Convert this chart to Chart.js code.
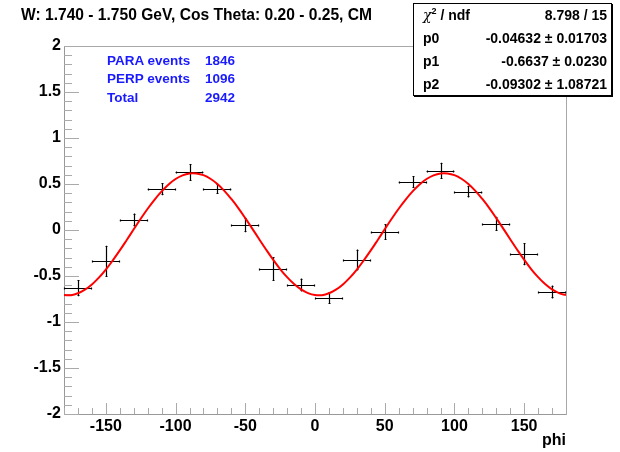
<!DOCTYPE html>
<html><head><meta charset="utf-8">
<script src="https://cdn.jsdelivr.net/npm/chart.js@4.4.1/dist/chart.umd.min.js"></script>
<style>
html,body{margin:0;padding:0;background:#fff;}
#wrap{position:relative;width:620px;height:452px;font-family:'Liberation Sans',Arial,sans-serif;font-weight:bold;overflow:hidden;}
canvas{position:absolute;left:0;top:0;}
.t{position:absolute;white-space:nowrap;line-height:1;}
#stats{position:absolute;left:413px;top:3px;width:199px;height:93px;box-sizing:border-box;border:1px solid #000;background:#fff;box-shadow:1px 1px 0 #000;font-size:14px;}
#stats .row{position:absolute;left:0;right:0;height:23px;line-height:23px;}
#stats .l{position:absolute;left:9px;}
#stats .r{position:absolute;right:4px;}
.blue{color:#1a1aff;font-size:13.5px;}
sup{font-size:9px;vertical-align:6px;line-height:0;}
</style></head><body>
<div id="wrap">
<canvas id="c" width="620" height="452"></canvas>
<div class="t" style="left:21px;top:7px;font-size:15.6px;">W: 1.740 - 1.750 GeV, Cos Theta: 0.20 - 0.25, CM</div>
<div class="t blue" style="left:107px;top:54px;">PARA events</div>
<div class="t blue" style="left:205px;top:54px;">1846</div>
<div class="t blue" style="left:107px;top:72px;">PERP events</div>
<div class="t blue" style="left:205px;top:72px;">1096</div>
<div class="t blue" style="left:107px;top:91px;">Total</div>
<div class="t blue" style="left:205px;top:91px;">2942</div>
<div id="stats">
  <div class="row" style="top:0px"><span class="l"><span style="font-family:'DejaVu Serif',serif;font-weight:normal;font-style:italic;">χ</span><sup>2</sup> / ndf</span><span class="r">8.798 / 15</span></div>
  <div class="row" style="top:23px"><span class="l">p0</span><span class="r">-0.04632 ± 0.01703</span></div>
  <div class="row" style="top:46px"><span class="l">p1</span><span class="r">-0.6637 ± 0.0230</span></div>
  <div class="row" style="top:69px"><span class="l">p2</span><span class="r">-0.09302 ± 1.08721</span></div>
</div>
<div class="t" style="right:54px;top:432px;font-size:16px;">phi</div>
</div>
<script>
// ---- data ----
const phiBins = [-170,-150,-130,-110,-90,-70,-50,-30,-10,10,30,50,70,90,110,130,150,170];
const asymValues = [-0.634,-0.34,0.109,0.442,0.627,0.446,0.051,-0.424,-0.598,-0.739,-0.326,-0.022,0.522,0.645,0.417,0.069,-0.264,-0.674];
const asymErrors = [0.087,0.17,0.07,0.065,0.09,0.055,0.075,0.127,0.07,0.063,0.114,0.085,0.063,0.087,0.063,0.076,0.12,0.07];
const binHalfWidth = 10;
const fitPhi = [-180,-175,-170,-165,-160,-155,-150,-145,-140,-135,-130,-125,-120,-115,-110,-105,-100,-95,-90,-85,-80,-75,-70,-65,-60,-55,-50,-45,-40,-35,-30,-25,-20,-15,-10,-5,0,5,10,15,20,25,30,35,40,45,50,55,60,65,70,75,80,85,90,95,100,105,110,115,120,125,130,135,140,145,150,155,160,165,170,175,180];
const fitValues = [-0.707,-0.708,-0.688,-0.649,-0.592,-0.518,-0.430,-0.330,-0.222,-0.108,0.008,0.122,0.231,0.331,0.420,0.495,0.554,0.594,0.615,0.615,0.596,0.557,0.500,0.426,0.337,0.238,0.129,0.015,-0.100,-0.214,-0.323,-0.424,-0.513,-0.588,-0.646,-0.686,
 -0.707,-0.708,-0.688,-0.649,-0.592,-0.518,-0.430,-0.330,-0.222,-0.108,0.008,0.122,0.231,0.331,0.420,0.495,0.554,0.594,0.615,0.615,0.596,0.557,0.500,0.426,0.337,0.238,0.129,0.015,-0.100,-0.214,-0.323,-0.424,-0.513,-0.588,-0.646,-0.686,-0.707];
const xTicks = [-150,-100,-50,0,50,100,150];
const yTicks = [-2,-1.5,-1,-0.5,0,0.5,1,1.5,2];
const xMinorStep = 10, yMinorStep = 0.1;
const xRange = [-180,180], yRange = [-2,2];

const rootAxes = {
  id:'rootAxes',
  beforeDatasetsDraw(chart){
    const ctx = chart.ctx, a = chart.chartArea, xs = chart.scales.x, ys = chart.scales.y;
    ctx.save();
    ctx.lineWidth = 1;
    ctx.strokeStyle = '#a8a8a8';
    ctx.strokeRect(Math.round(a.left)+0.5, Math.round(a.top)+0.5, Math.round(a.right-a.left), Math.round(a.bottom-a.top));
    ctx.strokeStyle = '#999';
    ctx.beginPath();
    ctx.moveTo(Math.round(a.left)+0.5, a.top); ctx.lineTo(Math.round(a.left)+0.5, a.bottom);
    ctx.moveTo(a.left, Math.round(a.bottom)+0.5); ctx.lineTo(a.right, Math.round(a.bottom)+0.5);
    ctx.stroke();
    ctx.strokeStyle = '#aaa';
    ctx.beginPath();
    for (let i = Math.round(xRange[0]/xMinorStep); i <= Math.round(xRange[1]/xMinorStep); i++) {
      const v = i*xMinorStep;
      const px = Math.round(xs.getPixelForValue(v))+0.5;
      const major = xTicks.includes(v);
      ctx.moveTo(px, a.bottom); ctx.lineTo(px, a.bottom - (major ? 11 : 6));
    }
    for (let i = Math.round(yRange[0]/yMinorStep); i <= Math.round(yRange[1]/yMinorStep); i++) {
      const v = +(i*yMinorStep).toFixed(2);
      const py = Math.round(ys.getPixelForValue(v))+0.5;
      const major = yTicks.includes(v);
      ctx.moveTo(a.left, py); ctx.lineTo(a.left + (major ? 15 : 8), py);
    }
    ctx.stroke();
    ctx.strokeStyle = '#000';
    ctx.lineWidth = 1.2;
    ctx.beginPath();
    phiBins.forEach((p,i)=>{
      const cx = xs.getPixelForValue(p), cy = ys.getPixelForValue(asymValues[i]);
      const x0 = xs.getPixelForValue(p-binHalfWidth), x1 = xs.getPixelForValue(p+binHalfWidth);
      const y0 = ys.getPixelForValue(asymValues[i]-asymErrors[i]), y1 = ys.getPixelForValue(asymValues[i]+asymErrors[i]);
      const ry = Math.round(cy)+0.5, rx = Math.round(cx)+0.5;
      ctx.moveTo(x0, ry); ctx.lineTo(x1, ry);
      ctx.moveTo(rx, y0); ctx.lineTo(rx, y1);
      ctx.moveTo(Math.round(x0)+0.5, ry-1); ctx.lineTo(Math.round(x0)+0.5, ry+1);
      ctx.moveTo(Math.round(x1)-0.5, ry-1); ctx.lineTo(Math.round(x1)-0.5, ry+1);
      ctx.moveTo(rx-1, Math.round(y0)-0.5); ctx.lineTo(rx+1, Math.round(y0)-0.5);
      ctx.moveTo(rx-1, Math.round(y1)+0.5); ctx.lineTo(rx+1, Math.round(y1)+0.5);
    });
    ctx.stroke();
    ctx.restore();
  }
};

const font = {family:"'Liberation Sans', Arial, sans-serif", size:16, weight:'bold'};
new Chart(document.getElementById('c'), {
  type:'scatter',
  data:{datasets:[
    {label:'data', data: phiBins.map((p,i)=>({x:p,y:asymValues[i]})), pointRadius:0, showLine:false},
    {label:'fit', data: fitPhi.map((p,i)=>({x:p,y:fitValues[i]})), showLine:true, pointRadius:0, borderColor:'rgb(255,0,0)', borderWidth:2, tension:0.4, fill:false}
  ]},
  options:{
    responsive:false, animation:false, devicePixelRatio:1,
    layout:{padding:{top:46,right:54,bottom:0,left:0}},
    plugins:{legend:{display:false}, tooltip:{enabled:false}},
    scales:{
      x:{type:'linear', min:xRange[0], max:xRange[1],
         afterBuildTicks:s=>{s.ticks = xTicks.map(v=>({value:v}));},
         afterFit:s=>{s.height = 38;},
         grid:{display:false, drawTicks:false}, border:{display:false},
         ticks:{color:'#000', font, padding:3, maxRotation:0, autoSkip:false, callback:v=>String(v)}},
      y:{type:'linear', min:yRange[0], max:yRange[1],
         afterBuildTicks:s=>{s.ticks = yTicks.map(v=>({value:v}));},
         afterFit:s=>{s.width = 64;},
         grid:{display:false, drawTicks:false}, border:{display:false},
         ticks:{color:'#000', font, padding:3, autoSkip:false, callback:v=>String(v)}}
    }
  },
  plugins:[rootAxes]
});
</script>
</body></html>
